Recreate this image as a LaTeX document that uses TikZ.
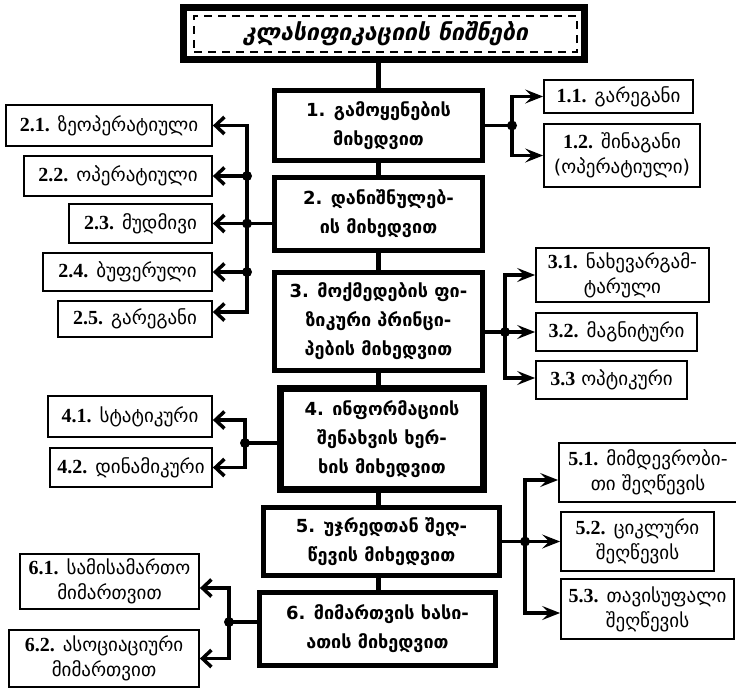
\documentclass[tikz,border=0pt]{standalone}
\usepackage{fontspec}
\setmainfont{DejaVu Sans}
\newfontfamily\numfont{Liberation Serif}
\usetikzlibrary{arrows.meta}

% bold serif item numbers in the small boxes
\newcommand\nm[1]{{\numfont\bfseries\fontsize{20}{22}\selectfont #1}}

\begin{document}
\begin{tikzpicture}[x=1pt, y=-1pt,
    main/.style = {draw, line width=5pt, inner sep=0pt, align=center, font=\bfseries\fontsize{18}{29}\selectfont},
    sub/.style = {draw, line width=1.8pt, inner sep=0pt, align=center, font=\fontsize{19}{25}\selectfont},
    trunk/.style = {line width=5pt},
    bus/.style = {line width=3.5pt},
    junct/.style = {circle, fill, inner sep=0pt, minimum size=10pt},
    tor/.style = {line width=3.5pt, -{Stealth[length=18pt, width=14pt, inset=7pt]}},
    tol/.style = {line width=3.5pt, -{Straight Barb[length=9pt, width=17pt]}}]
    \useasboundingbox (0,0) rectangle (736,689);

    % heading
    \node[draw, line width=7pt, minimum width=401pt, minimum height=52pt] (t) at (384,33.5) {};
    \node[draw, line width=2pt, dash pattern=on 8pt off 6pt, minimum width=383pt, minimum height=36pt,
          font=\bfseries\itshape\fontsize{23}{26}\selectfont] (tt) at (385.5,34) {კლასიფიკაციის ნიშნები};

    % main column
    \node[main, minimum width=208pt, minimum height=70pt] (1) at (378.5,125.5) {1. გამოყენების\\მიხედვით};
    \node[main, minimum width=208pt, minimum height=73pt] (2) at (378.5,214) {2. დანიშნულებ-\\ის მიხედვით};
    \node[main, minimum width=208pt, minimum height=98pt] (3) at (378.5,321.5) {3. მოქმედების ფი-\\ზიკური პრინცი-\\პების მიხედვით};
    \node[main, line width=7pt, minimum width=203pt, minimum height=101pt] (4) at (382,439) {4. ინფორმაციის\\შენახვის ხერ-\\ხის მიხედვით};
    \node[main, minimum width=236pt, minimum height=68pt] (5) at (381.5,541.5) {5. უჯრედთან შეღ-\\წევის მიხედვით};
    \node[main, minimum width=236pt, minimum height=73pt] (6) at (377.5,629) {6. მიმართვის ხასი-\\ათის მიხედვით};

    \draw[trunk] (t.south -| 1.north) -- (1.north);
    \draw[trunk] (1) -- (2);
    \draw[trunk] (2) -- (3);
    \draw[trunk] (3.south) -- (3.south |- 4.north);
    \draw[trunk] (4.south -| 3.south) -- (5.north -| 3.south);
    \draw[trunk] (5.south -| 3.south) -- (6.north -| 3.south);

    % 1.x
    \node[sub, minimum width=149pt, minimum height=33pt] (11) at (618.5,96.5) {\nm{1.1.} გარეგანი};
    \node[sub, minimum width=156pt, minimum height=63pt] (12) at (622,155.5) {\nm{1.2.} შინაგანი\\(ოპერატიული)};
    \coordinate (j1) at (512,125.5);
    \draw[bus] (1.east) -- (j1);
    \draw[tor] (j1) |- (11.west);
    \draw[tor] (j1) |- (12.west);
    \node[junct] at (j1) {};

    % 2.x
    \node[sub, minimum width=206pt, minimum height=41pt] (21) at (109,125.5) {\nm{2.1.} ზეოპერატიული};
    \node[sub, minimum width=188pt, minimum height=40pt] (22) at (118,176) {\nm{2.2.} ოპერატიული};
    \node[sub, minimum width=143pt, minimum height=39pt] (23) at (140.5,223.5) {\nm{2.3.} მუდმივი};
    \node[sub, minimum width=169pt, minimum height=38pt] (24) at (127.5,272) {\nm{2.4.} ბუფერული};
    \node[sub, minimum width=154pt, minimum height=36pt] (25) at (135,319) {\nm{2.5.} გარეგანი};
    \coordinate (j2) at (247,223.5);
    \draw[tol] (2.west |- 23.east) -- (23.east);
    \draw[tol] (j2) |- (21.east);
    \draw[tol] (j2) |- ([yshift=7pt]25.east);
    \draw[tol] (22.east -| j2) -- (22.east);
    \draw[tol] (24.east -| j2) -- (24.east);
    \node[junct] at (22.east -| j2) {};
    \node[junct] at (j2) {};
    \node[junct] at (24.east -| j2) {};

    % 3.x
    \node[sub, minimum width=173pt, minimum height=54pt] (31) at (622.5,275) {\nm{3.1.} ნახევარგამ-\\ტარული};
    \node[sub, minimum width=161pt, minimum height=38pt] (32) at (616.5,332) {\nm{3.2.} მაგნიტური};
    \node[sub, minimum width=151pt, minimum height=38pt] (33) at (611.5,380) {\nm{3.3} ოპტიკური};
    \coordinate (j3) at (505,332);
    \draw[tor] (3.east |- 32.west) -- (32.west);
    \draw[tor] (j3) |- (31.west);
    \draw[tor] (j3) |- ([yshift=2pt]33.west);
    \node[junct] at (j3) {};

    % 4.x
    \node[sub, minimum width=164pt, minimum height=41pt] (41) at (130,416.5) {\nm{4.1.} სტატიკური};
    \node[sub, minimum width=162pt, minimum height=39pt] (42) at (131,467.5) {\nm{4.2.} დინამიკური};
    \coordinate (j4) at (245,443);
    \draw[bus] (4.west |- j4) -- (j4);
    \draw[tol] (j4) |- ([yshift=-3.5pt]41.east);
    \draw[tol] (j4) |- (42.east);
    \node[junct] at (j4) {};

    % 5.x
    \node[sub, minimum width=178pt, minimum height=59pt] (51) at (648,472.5) {\nm{5.1.} მიმდევრობი-\\თი შეღწევის};
    \node[sub, minimum width=153pt, minimum height=59pt] (52) at (637.5,541.5) {\nm{5.2.} ციკლური\\შეღწევის};
    \node[sub, minimum width=173pt, minimum height=60pt] (53) at (647.5,609) {\nm{5.3.} თავისუფალი\\შეღწევის};
    \coordinate (j5) at (525,541.5);
    \draw[bus] (5.east) -- (j5);
    \draw[tor] (j5) |- ([yshift=-7.5pt]51.west);
    \draw[tor] (j5) -- (52.west);
    \draw[tor] (j5) |- ([yshift=-4pt]53.west);
    \node[junct] at (j5) {};

    % 6.x
    \node[sub, minimum width=179pt, minimum height=55pt] (61) at (109.5,581.5) {\nm{6.1.} სამისამართო\\მიმართვით};
    \node[sub, minimum width=190pt, minimum height=57pt] (62) at (104,658.5) {\nm{6.2.} ასოციაციური\\მიმართვით};
    \coordinate (j6) at (229,622);
    \draw[bus] (6.west |- j6) -- (j6);
    \draw[tol] (j6) |- ([yshift=-6.5pt]61.east);
    \draw[tol] (j6) |- (62.east);
    \node[junct] at (j6) {};
\end{tikzpicture}
\end{document}
